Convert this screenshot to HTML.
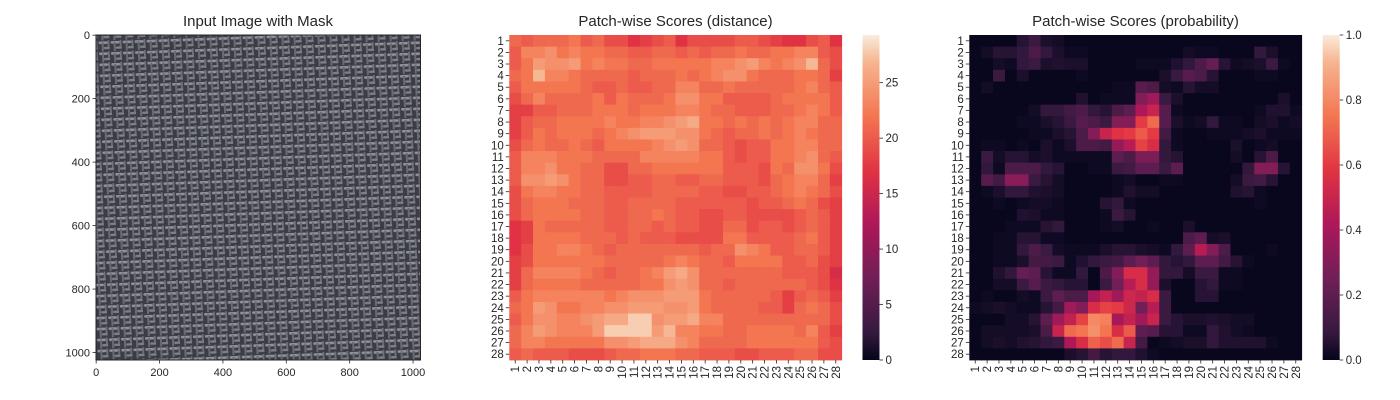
<!DOCTYPE html>
<html><head><meta charset="utf-8"><style>
html,body{margin:0;padding:0;background:#fff;}
svg{display:block;font-family:"Liberation Sans",Arial,sans-serif;}
</style></head><body>
<svg id="fig" width="1400" height="400" viewBox="0 0 1400 400" xmlns="http://www.w3.org/2000/svg">
<defs>
<pattern id="weave" width="12" height="11" patternUnits="userSpaceOnUse" patternTransform="rotate(-2)">
<rect width="12" height="11" fill="#3c3c44"/>
<rect x="1" y="1" width="9" height="2.6" rx="1.2" fill="#9a9ea6"/>
<rect x="6" y="6.5" width="9" height="2.4" rx="1.2" fill="#868a92"/>
<rect x="4" y="2" width="2" height="9" fill="#6e7178"/>
<rect x="10" y="0" width="1.8" height="7" fill="#777a82"/>
</pattern>
</defs>
<g id="panel1">
<text x="258" y="26" font-size="15" text-anchor="middle" fill="#262626">Input Image with Mask</text>
<rect x="96" y="35" width="324.5" height="325" fill="url(#weave)"/>
<rect x="96" y="35" width="324.5" height="325" fill="#40404a" opacity="0.12"/>
<rect x="96" y="35" width="324.5" height="325" fill="none" stroke="#262626" stroke-width="1"/>
<g id="imgticks"></g>
</g>
<g id="h1"></g>
<g id="h2"></g>
</svg>
<script>
const rowLabels=[1,2,3,4,5,6,7,8,9,10,11,12,13,14,15,16,17,18,19,20,21,22,23,24,25,26,27,28];
const colLabels=[1,2,3,4,5,6,7,8,9,10,11,12,13,14,15,16,17,18,19,20,21,22,23,24,25,26,27,28];
const imgTicks=[0,200,400,600,800,1000];
const distTicks=[0,5,10,15,20,25];
const probTicks=["0.0","0.2","0.4","0.6","0.8","1.0"];
const distance=[
[21,20,21,21,21,22,20,21,19,19,17,18,19,20,17,19,19,19,19,20,20,19,18,17,17,19,20,17],
[20,23,23,24,22,23,22,22,21,21,20,20,21,21,20,21,20,21,21,22,21,21,22,22,23,23,20,19],
[20,22,25,24,24,25,22,23,22,22,21,21,22,22,22,22,22,23,23,24,25,23,22,23,24,27,21,19],
[21,22,27,23,23,22,21,21,21,21,20,21,21,21,22,21,22,23,24,24,22,21,21,21,22,22,21,18],
[20,22,22,22,22,22,21,20,20,21,20,20,21,21,23,23,21,21,22,21,21,21,21,21,22,23,21,20],
[19,21,23,21,21,21,21,22,20,22,21,21,21,22,24,24,22,22,20,20,20,20,21,22,22,22,22,20],
[18,18,20,20,21,21,21,22,22,22,21,22,22,22,23,23,22,21,21,20,20,20,21,21,22,23,22,20],
[18,20,21,21,22,22,22,22,23,22,22,23,23,24,25,26,22,22,21,22,21,22,21,22,23,23,21,21],
[18,20,22,21,22,22,22,21,22,23,24,25,25,25,24,24,22,21,20,21,21,22,21,22,23,22,21,21],
[19,21,22,21,21,22,21,20,22,22,22,22,23,24,25,24,21,21,20,19,20,20,22,22,23,23,21,21],
[20,23,23,23,22,22,22,21,21,21,21,23,23,23,23,23,22,22,20,19,20,20,22,22,23,24,21,20],
[20,23,23,24,22,22,21,21,19,19,21,21,22,22,22,22,22,22,20,20,20,19,22,21,24,24,22,19],
[20,24,24,25,24,22,21,21,19,19,20,20,21,21,20,20,21,21,20,20,20,19,21,22,23,23,21,18],
[19,22,23,23,22,22,21,21,20,20,20,20,21,21,21,21,20,20,19,19,20,20,21,22,23,22,21,19],
[19,21,22,22,22,21,21,21,20,20,21,21,21,21,20,20,20,20,20,20,19,20,20,21,22,21,19,18],
[19,21,22,22,22,22,21,21,20,20,21,21,22,21,20,20,19,19,20,20,19,19,19,19,20,21,20,18],
[17,18,22,21,21,21,21,21,20,20,21,21,20,21,20,20,19,19,21,21,19,20,20,19,20,21,20,18],
[17,18,22,22,22,22,21,21,21,20,21,20,20,20,19,19,19,19,22,22,20,20,20,20,21,22,20,18],
[17,19,22,22,23,23,22,21,20,21,21,21,21,21,21,21,20,21,21,24,23,22,20,20,21,21,20,18],
[18,19,22,22,22,22,22,22,21,21,21,21,21,22,23,22,21,21,20,22,22,22,22,20,20,21,19,18],
[18,21,23,23,23,23,22,21,20,21,21,22,23,25,26,24,21,21,21,21,21,21,21,20,20,20,19,16],
[18,21,22,22,22,22,21,21,21,21,21,22,22,24,25,24,21,21,20,21,21,21,21,21,21,20,19,17],
[20,22,23,23,23,23,23,23,22,23,24,24,24,25,25,25,22,21,21,21,21,21,20,18,20,21,20,18],
[21,22,25,24,22,22,23,23,24,24,25,25,25,24,24,25,22,21,21,21,21,20,20,18,21,22,21,19],
[20,22,24,24,23,23,24,25,26,26,28,28,24,25,25,26,23,23,21,21,21,21,21,21,21,21,21,19],
[21,23,25,24,23,23,23,25,28,28,28,28,25,27,23,23,22,22,21,21,22,22,22,22,21,23,20,18],
[21,23,23,22,22,22,22,22,24,24,25,26,26,26,24,23,21,21,21,21,22,22,22,22,22,22,20,19],
[20,21,20,20,20,19,19,19,20,21,21,22,22,22,21,21,20,20,20,19,19,20,20,20,21,21,19,19]];
const probability=[
[.01,.01,.01,.01,.06,.10,.04,.03,.01,.01,.01,.01,.01,.01,.01,.01,.01,.01,.01,.01,.01,.01,.01,.01,.01,.01,.01,.01],
[.01,.03,.06,.06,.08,.15,.08,.04,.02,.02,.01,.01,.01,.01,.01,.01,.01,.01,.03,.02,.02,.01,.01,.01,.08,.04,.01,.01],
[.01,.01,.03,.02,.08,.10,.04,.05,.04,.04,.01,.01,.01,.01,.02,.02,.02,.05,.08,.15,.22,.06,.02,.03,.04,.10,.02,.01],
[.01,.01,.10,.01,.04,.01,.01,.01,.01,.02,.01,.01,.01,.01,.01,.01,.04,.10,.18,.15,.06,.01,.01,.01,.02,.02,.01,.01],
[.01,.03,.01,.01,.01,.01,.01,.01,.01,.01,.01,.01,.02,.02,.18,.15,.03,.02,.06,.03,.03,.01,.01,.01,.01,.01,.01,.01],
[.01,.01,.01,.01,.01,.01,.01,.01,.01,.05,.01,.02,.02,.02,.30,.38,.10,.04,.01,.01,.01,.01,.01,.01,.01,.01,.04,.01],
[.01,.01,.01,.01,.01,.03,.08,.08,.12,.15,.08,.06,.15,.20,.42,.50,.18,.02,.01,.01,.01,.01,.01,.01,.02,.05,.05,.02],
[.01,.01,.01,.01,.02,.02,.04,.06,.10,.18,.15,.10,.30,.30,.60,.72,.18,.04,.02,.03,.08,.02,.02,.01,.03,.04,.02,.03],
[.01,.01,.01,.01,.01,.02,.02,.04,.06,.15,.30,.50,.58,.60,.68,.60,.12,.02,.01,.01,.02,.02,.02,.03,.04,.02,.02,.02],
[.01,.02,.02,.01,.02,.01,.04,.02,.04,.15,.15,.12,.35,.45,.62,.55,.08,.02,.01,.01,.01,.01,.04,.01,.02,.03,.01,.01],
[.01,.10,.03,.06,.06,.03,.04,.02,.02,.02,.02,.02,.20,.15,.28,.28,.08,.06,.01,.01,.01,.01,.03,.01,.06,.15,.01,.01],
[.01,.08,.02,.15,.15,.15,.08,.06,.01,.01,.02,.02,.10,.12,.20,.20,.10,.20,.01,.01,.01,.01,.01,.08,.30,.30,.06,.01],
[.01,.18,.12,.32,.32,.10,.06,.03,.01,.01,.01,.01,.02,.03,.01,.01,.02,.02,.01,.01,.01,.01,.03,.10,.12,.06,.01,.01],
[.01,.02,.04,.08,.08,.05,.04,.03,.01,.01,.01,.01,.02,.05,.03,.03,.01,.01,.01,.01,.01,.01,.05,.06,.02,.01,.01,.01],
[.01,.01,.02,.01,.02,.03,.03,.02,.01,.01,.01,.06,.08,.02,.01,.01,.01,.01,.01,.01,.01,.01,.01,.01,.02,.01,.01,.01],
[.01,.01,.01,.01,.05,.04,.02,.02,.01,.01,.01,.02,.10,.06,.01,.01,.01,.01,.01,.01,.01,.01,.01,.01,.01,.01,.01,.01],
[.01,.01,.01,.02,.02,.02,.06,.08,.01,.01,.01,.02,.03,.01,.01,.02,.01,.01,.04,.01,.01,.01,.01,.01,.01,.01,.01,.01],
[.01,.01,.02,.02,.06,.06,.02,.02,.01,.01,.01,.01,.01,.01,.01,.01,.01,.01,.15,.20,.03,.04,.01,.01,.01,.01,.01,.01],
[.01,.01,.02,.02,.08,.15,.10,.03,.02,.02,.02,.04,.06,.06,.04,.03,.02,.08,.20,.45,.30,.15,.01,.01,.01,.02,.01,.01],
[.01,.01,.02,.02,.04,.12,.12,.10,.02,.05,.08,.10,.12,.20,.25,.20,.08,.06,.08,.20,.20,.12,.06,.02,.01,.01,.01,.01],
[.01,.01,.05,.08,.22,.20,.06,.02,.02,.08,.01,.15,.30,.55,.55,.35,.08,.08,.03,.10,.10,.02,.02,.01,.01,.01,.01,.01],
[.01,.01,.03,.03,.10,.18,.10,.08,.06,.06,.01,.10,.25,.45,.55,.35,.04,.01,.01,.06,.08,.02,.02,.01,.01,.01,.01,.01],
[.01,.02,.01,.01,.03,.02,.10,.20,.15,.15,.40,.48,.38,.52,.48,.55,.10,.01,.01,.06,.06,.01,.01,.01,.01,.01,.01,.01],
[.02,.03,.04,.03,.02,.02,.06,.12,.38,.30,.55,.62,.60,.52,.25,.45,.10,.01,.01,.01,.01,.01,.01,.01,.01,.01,.01,.01],
[.01,.01,.01,.03,.03,.06,.20,.38,.48,.62,.80,.78,.40,.48,.38,.50,.10,.06,.04,.04,.05,.04,.03,.03,.01,.01,.01,.01],
[.01,.03,.03,.03,.03,.04,.15,.50,.72,.75,.82,.75,.55,.68,.20,.18,.06,.06,.02,.02,.08,.05,.03,.02,.01,.01,.01,.01],
[.01,.03,.04,.03,.05,.06,.08,.10,.42,.55,.70,.65,.72,.50,.12,.01,.02,.03,.04,.04,.08,.05,.05,.05,.05,.02,.01,.01],
[.01,.01,.01,.01,.01,.01,.01,.01,.04,.06,.12,.06,.08,.08,.05,.02,.01,.01,.01,.01,.01,.01,.01,.01,.01,.01,.01,.01]];

const NS="http://www.w3.org/2000/svg";
function mk(tag,attrs,parent){const e=document.createElementNS(NS,tag);for(const k in attrs)e.setAttribute(k,attrs[k]);parent.appendChild(e);return e;}
const stops=[[0,[3,5,26]],[1/12,[0x35,0x19,0x3e]],[0.25,[0x70,0x1f,0x57]],[5/12,[0xad,0x17,0x59]],[7/12,[0xe1,0x33,0x42]],[0.75,[0xf3,0x76,0x51]],[11/12,[0xf6,0xb4,0x8f]],[1,[0xfa,0xeb,0xdd]]];
function rocket(t){t=Math.max(0,Math.min(1,t));for(let i=1;i<stops.length;i++){if(t<=stops[i][0]){const a=stops[i-1],b=stops[i];const f=(t-a[0])/(b[0]-a[0]);const c=a[1].map((v,j)=>Math.round(v+(b[1][j]-v)*f));return `rgb(${c[0]},${c[1]},${c[2]})`;}}return "rgb(250,235,221)";}
const TXT="#262626";

// image ticks
(function(){const g=document.getElementById('imgticks');const x0=96,x1=420.5,y0=35,y1=360,N=1024;
const sx=v=>x0+(v+0.5)/N*(x1-x0), sy=v=>y0+(v+0.5)/N*(y1-y0);
imgTicks.forEach(v=>{
 mk('line',{x1:sx(v),x2:sx(v),y1:y1,y2:y1+3.5,stroke:TXT,'stroke-width':0.8},g);
 const t=mk('text',{x:sx(v),y:y1+16,'font-size':11,'text-anchor':'middle',fill:TXT},g);t.textContent=v;
 
 
 mk('line',{x1:x0-3.5,x2:x0,y1:sy(v),y2:sy(v),stroke:TXT,'stroke-width':0.8},g);
 const u=mk('text',{x:x0-6,y:sy(v)+4,'font-size':11,'text-anchor':'end',fill:TXT},g);u.textContent=v;
 
 
});})();

function heatmap(gid,data,vmax,x0,x1,cbx,ticks,tickVals,title,prefix){
 const g=document.getElementById(gid);const y0=35,y1=360;
 const nr=rowLabels.length,nc=colLabels.length;
 const cw=(x1-x0)/nc,ch=(y1-y0)/nr;
 const sx=i=>x0+i*cw, sy=j=>y0+j*ch;
 const tt=mk('text',{x:(x0+x1)/2,y:26,'font-size':15,'text-anchor':'middle',fill:TXT},g);tt.textContent=title;
 
 
 data.forEach((row,j)=>row.forEach((v,i)=>{
  const r=mk('rect',{x:sx(i),y:sy(j),width:cw+0.4,height:ch+0.4,fill:rocket(v/vmax)},g);
  
  
 }));
 rowLabels.forEach((l,j)=>{
  const cy=sy(j)+ch/2;
  mk('line',{x1:x0-3.5,x2:x0,y1:cy,y2:cy,stroke:TXT,'stroke-width':0.8},g);
  const t=mk('text',{x:x0-5.5,y:cy+4,'font-size':11.5,'text-anchor':'end',fill:TXT},g);t.textContent=l;
  
  
 });
 colLabels.forEach((l,i)=>{
  const cx=sx(i)+cw/2;
  mk('line',{x1:cx,x2:cx,y1:y1,y2:y1+3.5,stroke:TXT,'stroke-width':0.8},g);
  const t=mk('text',{x:0,y:0,'font-size':11.5,'text-anchor':'end',fill:TXT,transform:`translate(${cx+4},${y1+6}) rotate(-90)`},g);t.textContent=l;
  
  
 });
 // colorbar
 const gid2=prefix+'-grad';const defs=document.querySelector('defs');
 const lg=mk('linearGradient',{id:gid2,x1:0,y1:1,x2:0,y2:0},defs);
 for(let k=0;k<=40;k++)mk('stop',{offset:k/40,'stop-color':rocket(k/40)},lg);
 const cb=mk('rect',{x:cbx,y:y0,width:17,height:y1-y0,fill:`url(#${gid2})`},g);
 
 
 tickVals.forEach((v,k)=>{const cy=y1-(v/vmax)*(y1-y0);
  mk('line',{x1:cbx+17,x2:cbx+20.5,y1:cy,y2:cy,stroke:TXT,'stroke-width':0.8},g);
  const t=mk('text',{x:cbx+23,y:cy+4,'font-size':11.5,fill:TXT},g);t.textContent=ticks[k];
  
  
 });
}
heatmap('h1',distance,29.3,509.3,841.7,862.5,distTicks,distTicks,'Patch-wise Scores (distance)','distance');
heatmap('h2',probability,1.0,969.3,1301.7,1322.7,probTicks,probTicks.map(Number),'Patch-wise Scores (probability)','probability');
</script>
</body></html>
